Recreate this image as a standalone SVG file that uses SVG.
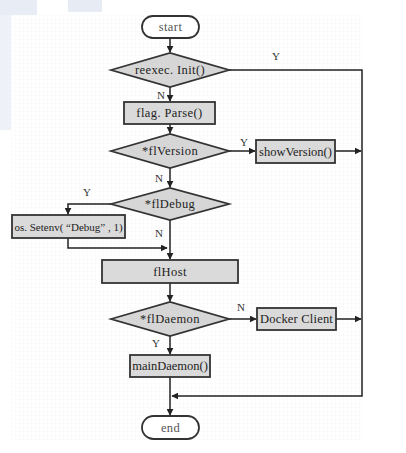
<svg xmlns="http://www.w3.org/2000/svg" width="406" height="453" viewBox="0 0 406 453">
<defs>
<marker id="ah" viewBox="0 0 10 10" refX="9" refY="5" markerWidth="7" markerHeight="7" markerUnits="userSpaceOnUse" orient="auto">
<path d="M0,0 L10,5 L0,10 z" fill="#222"/>
</marker>
<pattern id="grid" width="4" height="4" patternUnits="userSpaceOnUse">
<path d="M4,0 V4 M0,4 H4" stroke="#f3f3f3" stroke-width="0.5" fill="none"/>
</pattern>
</defs>
<style>
.box{fill:#dadada;stroke:#333;stroke-width:1.8}
.term{fill:#fff;stroke:#333;stroke-width:1.8}
.dia{fill:#d6d6d6;stroke:#333;stroke-width:1.8}
.t{font-family:"Liberation Serif","Noto Serif",serif;font-size:12.5px;letter-spacing:0.4px;fill:#222;text-anchor:middle;dominant-baseline:central}
.tt{font-family:"Liberation Serif",serif;font-size:12.5px;letter-spacing:0.4px;fill:#555;text-anchor:middle;dominant-baseline:central}
.lbl{font-family:"Liberation Serif",serif;font-size:11px;fill:#333;text-anchor:middle;dominant-baseline:central}
.c{fill:none;stroke:#222;stroke-width:1.5}
</style>
<rect width="406" height="453" fill="#fff"/>
<rect x="0" y="0" width="37" height="15" fill="#e8edf5"/>
<rect x="68" y="0" width="34" height="12" fill="#e6ebf4"/>
<rect x="0" y="15" width="11" height="115" fill="#eef2f8"/>
<rect x="11" y="15" width="352" height="425" fill="url(#grid)"/>

<g id="connectors">
<path class="c" d="M170,38 V52" marker-end="url(#ah)"/>
<path class="c" d="M229,70 H362 V396 H172" marker-end="url(#ah)"/>
<path class="c" d="M170,87 V101" marker-end="url(#ah)"/>
<path class="c" d="M170,124 V133" marker-end="url(#ah)"/>
<path class="c" d="M229,151 H255" marker-end="url(#ah)"/>
<path class="c" d="M335,151 H361" marker-end="url(#ah)"/>
<path class="c" d="M170,168 V187" marker-end="url(#ah)"/>
<path class="c" d="M111,204 H68 V214" marker-end="url(#ah)"/>
<path class="c" d="M68,238 V248 H167" marker-end="url(#ah)"/>
<path class="c" d="M170,220 V259" marker-end="url(#ah)"/>
<path class="c" d="M170,283 V301" marker-end="url(#ah)"/>
<path class="c" d="M229,319 H256" marker-end="url(#ah)"/>
<path class="c" d="M336,319 H361" marker-end="url(#ah)"/>
<path class="c" d="M170,336 V354" marker-end="url(#ah)"/>
<path class="c" d="M170,377 V415" marker-end="url(#ah)"/>
<text class="lbl" x="276" y="56">Y</text>
<text class="lbl" x="161" y="95">N</text>
<text class="lbl" x="244" y="142">Y</text>
<text class="lbl" x="159" y="178">N</text>
<text class="lbl" x="87" y="192">Y</text>
<text class="lbl" x="159" y="233">N</text>
<text class="lbl" x="241" y="307">N</text>
<text class="lbl" x="156" y="343">Y</text>
</g>

<g id="start"><rect class="term" x="142" y="16" width="57" height="22" rx="11"/><text class="tt" x="170.5" y="27">start</text></g>
<g id="reexec"><polygon class="dia" points="111,70 170,53 229,70 170,87"/><text class="t" x="170" y="70">reexec. Init()</text></g>
<g id="flagParse"><rect class="box" x="124" y="102" width="91" height="22"/><text class="t" x="169.5" y="113">flag. Parse()</text></g>
<g id="flVersion"><polygon class="dia" points="111,151 170,134 229,151 170,168"/><text class="t" x="170" y="151">*flVersion</text></g>
<g id="showVersion"><rect class="box" x="256" y="140" width="79" height="23"/><text class="t" x="295.5" y="151.5" style="letter-spacing:0">showVersion()</text></g>
<g id="flDebug"><polygon class="dia" points="111,204 170,188 229,204 170,220"/><text class="t" x="170" y="204">*flDebug</text></g>
<g id="setenv"><rect class="box" x="12" y="215" width="113" height="23"/><text class="t" x="68.5" y="226.5" style="font-size:11px;letter-spacing:0">os. Setenv( “Debug” , 1)</text></g>
<g id="flHost"><rect class="box" x="102" y="260" width="136" height="23"/><text class="t" x="170" y="271.5">flHost</text></g>
<g id="flDaemon"><polygon class="dia" points="111,319 170,302 229,319 170,336"/><text class="t" x="170" y="319">*flDaemon</text></g>
<g id="dockerClient"><rect class="box" x="257" y="308" width="79" height="22"/><text class="t" x="296.5" y="319" style="letter-spacing:0.2px">Docker Client</text></g>
<g id="mainDaemon"><rect class="box" x="130" y="355" width="80" height="22"/><text class="t" x="170" y="366" style="letter-spacing:0">mainDaemon()</text></g>
<g id="end"><rect class="term" x="142" y="416" width="57" height="23" rx="11.5"/><text class="tt" x="170.5" y="427.5">end</text></g>
</svg>
